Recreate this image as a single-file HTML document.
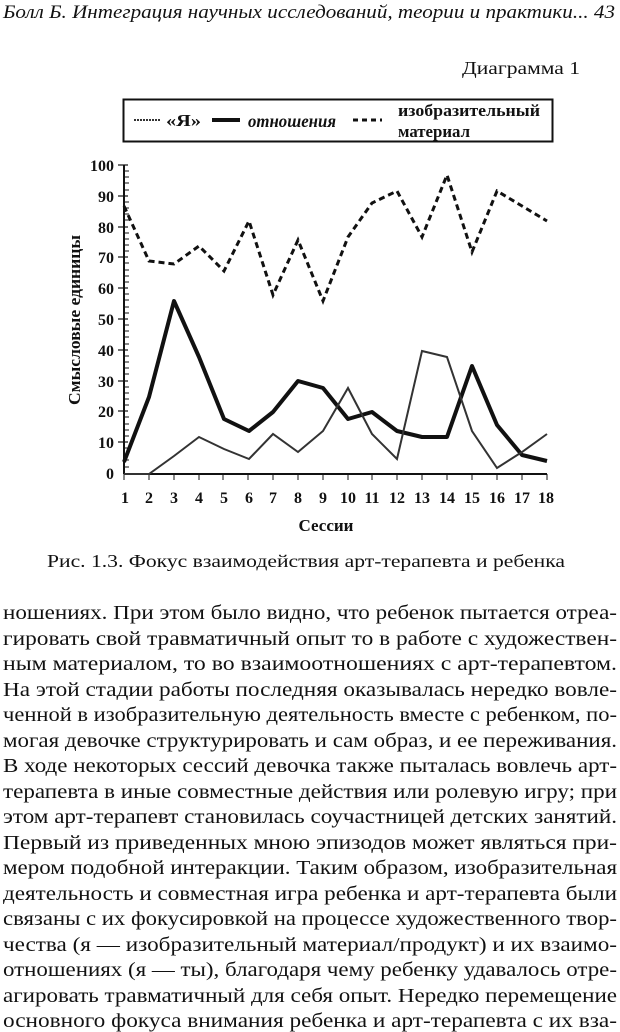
<!DOCTYPE html>
<html><head><meta charset="utf-8"><style>
html,body{margin:0;padding:0;background:#fff;}
svg{display:block;}
text{font-family:"Liberation Serif","Times New Roman",serif;fill:#111;}
.b{font-size:20px;}
</style></head><body>
<svg width="620" height="1032" viewBox="0 0 620 1032" xmlns="http://www.w3.org/2000/svg">
<text x="3" y="18" font-size="19" font-style="italic" textLength="612" lengthAdjust="spacingAndGlyphs">Болл Б. Интеграция научных исследований, теории и практики... 43</text>
<text x="462" y="74" font-size="18" textLength="118" lengthAdjust="spacingAndGlyphs">Диаграмма 1</text>

<rect x="123.5" y="99.5" width="429" height="42" fill="none" stroke="#111" stroke-width="2"/>
<line x1="134" y1="120" x2="160" y2="120" stroke="#333" stroke-width="2" stroke-dasharray="2,1"/>
<text x="166" y="126" font-size="17" font-weight="bold" textLength="35" lengthAdjust="spacingAndGlyphs">«Я»</text>
<line x1="212" y1="120" x2="240" y2="120" stroke="#111" stroke-width="4"/>
<text x="248" y="127" font-size="18" font-weight="bold" font-style="italic" textLength="88" lengthAdjust="spacingAndGlyphs">отношения</text>
<line x1="353" y1="120" x2="382" y2="120" stroke="#111" stroke-width="3" stroke-dasharray="5,4"/>
<text x="398" y="116" font-size="17" font-weight="bold" textLength="142" lengthAdjust="spacingAndGlyphs">изобразительный</text>
<text x="398" y="137" font-size="17" font-weight="bold" textLength="72" lengthAdjust="spacingAndGlyphs">материал</text>

<g stroke="#111" stroke-width="2">
<line x1="124" y1="165" x2="124" y2="474"/>
<line x1="124" y1="474" x2="547" y2="474"/>
</g>
<g stroke="#111" stroke-width="1.2">
<line x1="118" y1="165" x2="128" y2="165"/><line x1="118" y1="196" x2="128" y2="196"/><line x1="118" y1="227" x2="128" y2="227"/><line x1="118" y1="257" x2="128" y2="257"/><line x1="118" y1="288" x2="128" y2="288"/><line x1="118" y1="319" x2="128" y2="319"/><line x1="118" y1="350" x2="128" y2="350"/><line x1="118" y1="381" x2="128" y2="381"/><line x1="118" y1="411" x2="128" y2="411"/><line x1="118" y1="442" x2="128" y2="442"/>
</g>
<g stroke="#111" stroke-width="1">
<path d="M124 171h5M124 177h5M124 183h5M124 190h5M124 202h5M124 208h5M124 214h5M124 220h5M124 233h5M124 239h5M124 245h5M124 251h5M124 263h5M124 270h5M124 276h5M124 282h5M124 294h5M124 300h5M124 307h5M124 313h5M124 325h5M124 331h5M124 337h5M124 344h5M124 356h5M124 362h5M124 368h5M124 374h5M124 387h5M124 393h5M124 399h5M124 405h5M124 417h5M124 424h5M124 430h5M124 436h5M124 448h5M124 454h5M124 460h5M124 467h5"/>
<path d="M124 474v6M149 474v6M174 474v6M199 474v6M223 474v6M248 474v6M273 474v6M298 474v6M323 474v6M348 474v6M372 474v6M397 474v6M422 474v6M447 474v6M472 474v6M497 474v6M522 474v6M547 474v6"/>
</g>
<g font-size="16" font-weight="bold" text-anchor="end">
<text x="114" y="171">100</text><text x="114" y="202">90</text><text x="114" y="233">80</text><text x="114" y="263">70</text><text x="114" y="294">60</text><text x="114" y="325">50</text><text x="114" y="356">40</text><text x="114" y="387">30</text><text x="114" y="417">20</text><text x="114" y="448">10</text><text x="114" y="479">0</text>
</g>
<g font-size="16" font-weight="bold" text-anchor="middle">
<text x="125" y="503">1</text><text x="149" y="503">2</text><text x="174" y="503">3</text><text x="199" y="503">4</text><text x="224" y="503">5</text><text x="249" y="503">6</text><text x="273" y="503">7</text><text x="298" y="503">8</text><text x="323" y="503">9</text><text x="348" y="503">10</text><text x="372" y="503">11</text><text x="397" y="503">12</text><text x="422" y="503">13</text><text x="447" y="503">14</text><text x="472" y="503">15</text><text x="497" y="503">16</text><text x="522" y="503">17</text><text x="546" y="503">18</text>
</g>
<text x="326" y="531" font-size="17" font-weight="bold" text-anchor="middle">Сессии</text>
<text transform="translate(80,320) rotate(-90)" font-size="17" font-weight="bold" text-anchor="middle" textLength="170" lengthAdjust="spacingAndGlyphs">Смысловые единицы</text>

<polyline fill="none" stroke="#111" stroke-width="3" stroke-dasharray="6,4" points="124,206 149,261 174,264 199,246 224,271 249,221 273,295 298,240 323,301 348,237 372,203 397,191 422,237 447,175 472,252 497,191 522,206 547,221"/>
<polyline fill="none" stroke="#111" stroke-width="4" stroke-linejoin="round" points="124,462 149,397 174,301 199,357 224,419 249,431 273,412 298,381 323,388 348,419 372,412 397,431 422,437 447,437 472,366 497,425 522,455 547,461"/>
<polyline fill="none" stroke="#333" stroke-width="2" points="124,474 149,474 174,456 199,437 224,449 249,459 273,434 298,452 323,431 348,388 372,434 397,459 422,351 447,357 472,431 497,468 522,452 547,434"/>

<text x="47" y="567" font-size="18" textLength="518" lengthAdjust="spacingAndGlyphs">Рис. 1.3. Фокус взаимодействия арт-терапевта и ребенка</text>

<g class="b">
<text x="3" y="619" textLength="614" lengthAdjust="spacingAndGlyphs">ношениях. При этом было видно, что ребенок пытается отреа-</text>
<text x="3" y="645" textLength="614" lengthAdjust="spacingAndGlyphs">гировать свой травматичный опыт то в работе с художествен-</text>
<text x="3" y="670" textLength="614" lengthAdjust="spacingAndGlyphs">ным материалом, то во взаимоотношениях с арт-терапевтом.</text>
<text x="3" y="696" textLength="614" lengthAdjust="spacingAndGlyphs">На этой стадии работы последняя оказывалась нередко вовле-</text>
<text x="3" y="721" textLength="614" lengthAdjust="spacingAndGlyphs">ченной в изобразительную деятельность вместе с ребенком, по-</text>
<text x="3" y="747" textLength="614" lengthAdjust="spacingAndGlyphs">могая девочке структурировать и сам образ, и ее переживания.</text>
<text x="3" y="772" textLength="614" lengthAdjust="spacingAndGlyphs">В ходе некоторых сессий девочка также пыталась вовлечь арт-</text>
<text x="3" y="798" textLength="614" lengthAdjust="spacingAndGlyphs">терапевта в иные совместные действия или ролевую игру; при</text>
<text x="3" y="823" textLength="614" lengthAdjust="spacingAndGlyphs">этом арт-терапевт становилась соучастницей детских занятий.</text>
<text x="3" y="849" textLength="614" lengthAdjust="spacingAndGlyphs">Первый из приведенных мною эпизодов может являться при-</text>
<text x="3" y="874" textLength="614" lengthAdjust="spacingAndGlyphs">мером подобной интеракции. Таким образом, изобразительная</text>
<text x="3" y="900" textLength="614" lengthAdjust="spacingAndGlyphs">деятельность и совместная игра ребенка и арт-терапевта были</text>
<text x="3" y="925" textLength="614" lengthAdjust="spacingAndGlyphs">связаны с их фокусировкой на процессе художественного твор-</text>
<text x="3" y="951" textLength="614" lengthAdjust="spacingAndGlyphs">чества (я — изобразительный материал/продукт) и их взаимо-</text>
<text x="3" y="976" textLength="614" lengthAdjust="spacingAndGlyphs">отношениях (я — ты), благодаря чему ребенку удавалось отре-</text>
<text x="3" y="1002" textLength="614" lengthAdjust="spacingAndGlyphs">агировать травматичный для себя опыт. Нередко перемещение</text>
<text x="3" y="1027" textLength="614" lengthAdjust="spacingAndGlyphs">основного фокуса внимания ребенка и арт-терапевта с их вза-</text>
</g>
</svg>
</body></html>
